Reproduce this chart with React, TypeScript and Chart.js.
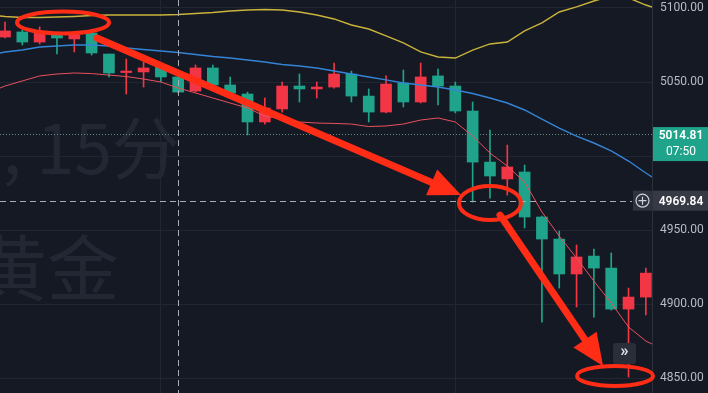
import React, { useEffect, useRef } from 'react';
import { Chart, registerables } from 'chart.js';

Chart.register(...registerables);

// ---- data (15-minute candles, Chinese colour convention: red = up, green = down) ----
const opens = [5080.4, 5083.8, 5077.0, 5081.8, 5079.1, 5083.1, 5068.9, 5056.4, 5056.8, 5060.1, 5053.4, 5043.9, 5059.5, 5048.0, 5041.9, 5023.0, 5031.8, 5047.3, 5045.3, 5046.6, 5055.4, 5040.5, 5029.7, 5049.3, 5036.5, 5054.1, 5047.3, 5030.4, 4995.9, 4984.5, 4989.2, 4958.8, 4943.9, 4920.3, 4932.4, 4924.3, 4896.6, 4904.7];
const closes = [5084.5, 5077.0, 5083.1, 5079.7, 5081.8, 5069.6, 5056.1, 5057.4, 5059.5, 5053.4, 5043.2, 5059.5, 5048.0, 5042.6, 5023.0, 5032.4, 5047.3, 5045.3, 5046.6, 5055.4, 5040.5, 5029.7, 5048.6, 5036.5, 5053.4, 5047.3, 5030.4, 4995.9, 4986.5, 4992.6, 4958.8, 4943.9, 4920.3, 4931.8, 4924.3, 4896.6, 4904.7, 4920.9];
const highs = [5090.5, 5085.1, 5087.2, 5083.8, 5083.1, 5083.8, 5068.9, 5065.5, 5063.5, 5062.8, 5055.4, 5061.5, 5061.5, 5053.4, 5043.2, 5039.2, 5050.0, 5055.4, 5050.0, 5062.8, 5057.4, 5045.3, 5054.1, 5058.1, 5062.8, 5058.8, 5050.0, 5036.5, 5017.6, 5007.4, 4993.9, 4959.5, 4949.3, 4939.9, 4937.2, 4934.5, 4910.8, 4924.3];
const lows = [5079.7, 5075.0, 5075.7, 5068.9, 5070.3, 5068.2, 5053.4, 5041.9, 5046.6, 5050.0, 5042.6, 5043.2, 5047.3, 5041.2, 5014.2, 5021.6, 5029.7, 5036.5, 5039.2, 5045.9, 5036.5, 5023.0, 5029.1, 5033.1, 5035.8, 5034.5, 5029.1, 4968.9, 4971.6, 4973.6, 4951.4, 4887.8, 4910.8, 4898.0, 4891.2, 4895.9, 4850.7, 4892.6];

// indicator lines (per candle) plus their values at the left / right pane edges
const upperBand = [5094.3, 5093.6, 5093.6, 5093.9, 5094.3, 5094.9, 5095.3, 5095.3, 5095.3, 5095.3, 5095.6, 5096.3, 5097.0, 5098.0, 5098.6, 5099.0, 5098.6, 5097.3, 5095.3, 5092.6, 5088.5, 5085.8, 5081.1, 5076.4, 5070.3, 5066.9, 5066.2, 5071.6, 5075.7, 5077.0, 5084.5, 5089.9, 5097.3, 5100.7, 5104.7, 5108.1, 5106.8, 5102.0];
const upperBandEdges = [5094.6, 5100.7];
const blueMA = [5070.3, 5071.6, 5073.6, 5074.3, 5075.0, 5075.0, 5074.3, 5073.0, 5072.0, 5070.9, 5069.9, 5068.6, 5067.2, 5066.2, 5064.9, 5063.5, 5061.8, 5060.8, 5059.5, 5057.4, 5055.4, 5053.4, 5051.4, 5049.3, 5048.0, 5046.6, 5044.6, 5042.2, 5039.2, 5035.8, 5031.1, 5025.0, 5018.9, 5013.5, 5008.8, 5003.4, 4996.6, 4988.5];
const blueMAEdges = [5069.6, 4985.8];
const redMA = [5047.3, 5050.7, 5054.1, 5055.4, 5056.1, 5055.7, 5054.7, 5053.7, 5052.0, 5050.0, 5045.9, 5042.6, 5039.2, 5035.8, 5032.4, 5027.0, 5025.0, 5023.0, 5022.3, 5022.0, 5021.6, 5019.9, 5020.3, 5021.6, 5024.3, 5025.7, 5023.0, 5013.5, 5002.0, 4993.2, 4982.4, 4962.2, 4945.9, 4931.1, 4915.5, 4900.7, 4884.5, 4875.0];
const redMAEdges = [5045.9, 4873.0];

const yTicks = [4850, 4900, 4950, 5000, 5050, 5100];
const hiddenTick = 5000;
const vGridIdx = [9, 26];
const X_MIN = -0.289;
const X_MAX = 37.355;
const Y_MIN = 4839.9;
const Y_MAX = 5105.4;

const lastPrice = 5014.81;
const lastPriceText = '5014.81';
const countdownText = '07:50';
const crossIdx = 10;
const crossPrice = 4969.84;
const crossPriceText = '4969.84';
const watermarkLine1 = 'XAUUSD, 15分';
const watermarkLine2 = '现货黄金';

// hand-drawn markup, anchored in (candle index, price)
const ellipses = [
  { i: 3.35, p: 5090.2, rx: 46, ry: 11 },
  { i: 28.0, p: 4968.2, rx: 31, ry: 17 },
  { i: 35.22, p: 4851.4, rx: 38, ry: 10 },
];
const arrows = [
  { i1: 5.31, p1: 5079.7, i2: 26.33, p2: 4973.6 },
  { i1: 28.58, p1: 4960.1, i2: 34.53, p2: 4858.1 },
];

// ---- styles ----
const BG = '#151924';
const GRID = '#222632';
const UP = '#f23645';
const DOWN = '#1fa48b';
const MARK = '#ff2c16';

function drawArrow(ctx: CanvasRenderingContext2D, x1: number, y1: number, x2: number, y2: number) {
  const a = Math.atan2(y2 - y1, x2 - x1);
  const headLen = 32;
  const headHalf = 14;
  const bx = x2 - headLen * Math.cos(a);
  const by = y2 - headLen * Math.sin(a);
  ctx.strokeStyle = MARK;
  ctx.lineWidth = 7;
  ctx.lineCap = 'round';
  ctx.beginPath();
  ctx.moveTo(x1, y1);
  ctx.lineTo(bx + 4 * Math.cos(a), by + 4 * Math.sin(a));
  ctx.stroke();
  ctx.fillStyle = MARK;
  ctx.beginPath();
  ctx.moveTo(x2, y2);
  ctx.lineTo(bx + headHalf * Math.sin(a), by - headHalf * Math.cos(a));
  ctx.lineTo(bx - headHalf * Math.sin(a), by + headHalf * Math.cos(a));
  ctx.closePath();
  ctx.fill();
}

function roundRect(ctx: CanvasRenderingContext2D, x: number, y: number, w: number, h: number, r: number) {
  ctx.beginPath();
  ctx.moveTo(x + r, y);
  ctx.lineTo(x + w - r, y);
  ctx.quadraticCurveTo(x + w, y, x + w, y + r);
  ctx.lineTo(x + w, y + h - r);
  ctx.quadraticCurveTo(x + w, y + h, x + w - r, y + h);
  ctx.lineTo(x + r, y + h);
  ctx.quadraticCurveTo(x, y + h, x, y + h - r);
  ctx.lineTo(x, y + r);
  ctx.quadraticCurveTo(x, y, x + r, y);
  ctx.closePath();
}

const overlayPlugin = {
  id: 'tvOverlay',
  beforeDraw(chart: any) {
    const { ctx, width, height, chartArea: ca } = chart;
    ctx.save();
    ctx.fillStyle = BG;
    ctx.fillRect(0, 0, width, height);
    ctx.beginPath();
    ctx.rect(ca.left, ca.top, ca.right - ca.left, ca.bottom - ca.top);
    ctx.clip();
    ctx.fillStyle = '#232734';
    ctx.textBaseline = 'alphabetic';
    ctx.textAlign = 'right';
    ctx.font = '68px "Noto Sans CJK SC"';
    ctx.fillText(watermarkLine1, ca.left + 180, 174);
    ctx.font = '72px "Noto Sans CJK SC"';
    ctx.fillText(watermarkLine2, ca.left + 119, 295);
    ctx.restore();
  },
  beforeDatasetsDraw(chart: any) {
    const { ctx, chartArea: ca, scales } = chart;
    const y = Math.round(scales.y.getPixelForValue(lastPrice)) + 0.5;
    ctx.save();
    ctx.strokeStyle = '#5f8f8b';
    ctx.lineWidth = 1;
    ctx.setLineDash([1, 2]);
    ctx.beginPath();
    ctx.moveTo(ca.left, y);
    ctx.lineTo(ca.right, y);
    ctx.stroke();
    ctx.restore();
  },
  afterDatasetsDraw(chart: any) {
    const { ctx, chartArea: ca, scales } = chart;
    const cx = Math.round(scales.x.getPixelForValue(crossIdx)) + 0.5;
    const cy = Math.round(scales.y.getPixelForValue(crossPrice)) + 0.5;
    ctx.save();
    ctx.strokeStyle = '#a9acb5';
    ctx.lineWidth = 1;
    ctx.setLineDash([6, 4]);
    ctx.beginPath();
    ctx.moveTo(cx, ca.top);
    ctx.lineTo(cx, ca.bottom);
    ctx.moveTo(ca.left, cy);
    ctx.lineTo(ca.right - 20, cy);
    ctx.stroke();
    ctx.restore();
  },
  afterDraw(chart: any) {
    const { ctx, chartArea: ca, scales, width } = chart;
    const xs = scales.x;
    const ys = scales.y;
    ctx.save();
    // last price label
    const ly = ys.getPixelForValue(lastPrice);
    ctx.fillStyle = DOWN;
    ctx.fillRect(ca.right + 1, ly - 7, width - ca.right - 1, 34);
    ctx.fillStyle = '#ffffff';
    ctx.textAlign = 'center';
    ctx.textBaseline = 'middle';
    ctx.font = '600 12px Roboto';
    ctx.fillText(lastPriceText, ca.right + 29, ly + 2);
    ctx.font = '12px Roboto';
    ctx.fillText(countdownText, ca.right + 29, ly + 18);

    // crosshair price label
    const cy = ys.getPixelForValue(crossPrice);
    ctx.fillStyle = '#2f333f';
    ctx.fillRect(ca.right - 19, cy - 10, 19, 20);
    ctx.fillStyle = '#363a45';
    ctx.fillRect(ca.right + 1, cy - 10, width - ca.right - 1, 20);
    ctx.fillStyle = '#ffffff';
    ctx.font = '600 12px Roboto';
    ctx.fillText(crossPriceText, ca.right + 29, cy + 1);
    // plus-in-circle icon
    const px = ca.right - 9.5;
    ctx.strokeStyle = '#cfd1d6';
    ctx.lineWidth = 1.2;
    ctx.beginPath();
    ctx.arc(px, cy, 6.5, 0, Math.PI * 2);
    ctx.moveTo(px - 4, cy);
    ctx.lineTo(px + 4, cy);
    ctx.moveTo(px, cy - 4);
    ctx.lineTo(px, cy + 4);
    ctx.stroke();

    // scroll-to-realtime button
    ctx.fillStyle = '#2a2e39';
    roundRect(ctx, ca.right - 39, 343, 23, 21, 3);
    ctx.fill();
    ctx.fillStyle = '#e6e7ea';
    ctx.font = '600 17px Roboto';
    ctx.fillText('»', ca.right - 27.5, 352);

    // hand-drawn markup
    ctx.strokeStyle = MARK;
    ctx.lineWidth = 4;
    ellipses.forEach((e) => {
      ctx.beginPath();
      ctx.ellipse(xs.getPixelForValue(e.i), ys.getPixelForValue(e.p), e.rx, e.ry, 0, 0, Math.PI * 2);
      ctx.stroke();
    });
    arrows.forEach((a) => {
      drawArrow(ctx, xs.getPixelForValue(a.i1), ys.getPixelForValue(a.p1), xs.getPixelForValue(a.i2), ys.getPixelForValue(a.p2));
    });
    ctx.restore();
  },
};

function lineData(vals: number[], edges: number[]) {
  return [
    { x: X_MIN, y: edges[0] },
    ...vals.map((v, i) => ({ x: i, y: v })),
    { x: X_MAX, y: edges[1] },
  ];
}

export default function App() {
  const ref = useRef<HTMLCanvasElement | null>(null);

  useEffect(() => {
    if (!ref.current) return;
    const colors = opens.map((o, i) => (closes[i] > o ? UP : DOWN));
    const wicks = opens.map((_, i) => ({ x: i, y: [lows[i], highs[i]] }));
    const bodies = opens.map((o, i) => ({ x: i, y: [Math.min(o, closes[i]), Math.max(o, closes[i])] }));

    const chart = new Chart(ref.current, {
      type: 'bar',
      data: {
        datasets: [
          { type: 'line', label: 'upper', data: lineData(upperBand, upperBandEdges), borderColor: '#c9b33b', borderWidth: 1.4, pointRadius: 0, tension: 0, order: 0 } as any,
          { type: 'line', label: 'ma-blue', data: lineData(blueMA, blueMAEdges), borderColor: '#3484d6', borderWidth: 1.4, pointRadius: 0, tension: 0, order: 0 } as any,
          { type: 'line', label: 'ma-red', data: lineData(redMA, redMAEdges), borderColor: '#e8505c', borderWidth: 1, pointRadius: 0, tension: 0, order: 0 } as any,
          { type: 'bar', label: 'wick', data: wicks, backgroundColor: colors, barThickness: 1, grouped: false, order: 2 } as any,
          { type: 'bar', label: 'body', data: bodies, backgroundColor: colors, barThickness: 11, grouped: false, order: 1 } as any,
        ],
      },
      options: {
        animation: false,
        responsive: false,
        events: [],
        layout: { padding: 0 },
        plugins: { legend: { display: false }, tooltip: { enabled: false }, title: { display: false } },
        scales: {
          x: {
            type: 'linear',
            min: X_MIN,
            max: X_MAX,
            offset: false,
            grid: { color: GRID, drawTicks: false, offset: false },
            border: { display: false },
            ticks: { display: false },
            afterBuildTicks: (s: any) => { s.ticks = vGridIdx.map((v) => ({ value: v })); },
            afterFit: (s: any) => { s.height = 0; s.paddingLeft = 0; s.paddingRight = 0; s.paddingTop = 0; s.paddingBottom = 0; },
          },
          y: {
            type: 'linear',
            position: 'right',
            min: Y_MIN,
            max: Y_MAX,
            grid: { color: GRID, drawTicks: false },
            border: { display: true, color: '#2c303b' },
            ticks: {
              color: '#b8bbc3',
              font: { family: 'Roboto', size: 12 },
              padding: 8,
              callback: (v: any) => (v === hiddenTick ? '' : Number(v).toFixed(2)),
            },
            afterBuildTicks: (s: any) => { s.ticks = yTicks.map((v) => ({ value: v })); },
            afterFit: (s: any) => { s.width = 56; s.paddingTop = 0; s.paddingBottom = 0; },
          },
        },
      } as any,
      plugins: [overlayPlugin],
    });
    return () => chart.destroy();
  }, []);

  return (
    <div style={{ position: 'fixed', left: 0, top: 0, width: 708, height: 393, background: BG }}>
      <canvas ref={ref} width={708} height={393} style={{ display: 'block', width: 708, height: 393 }} />
    </div>
  );
}
